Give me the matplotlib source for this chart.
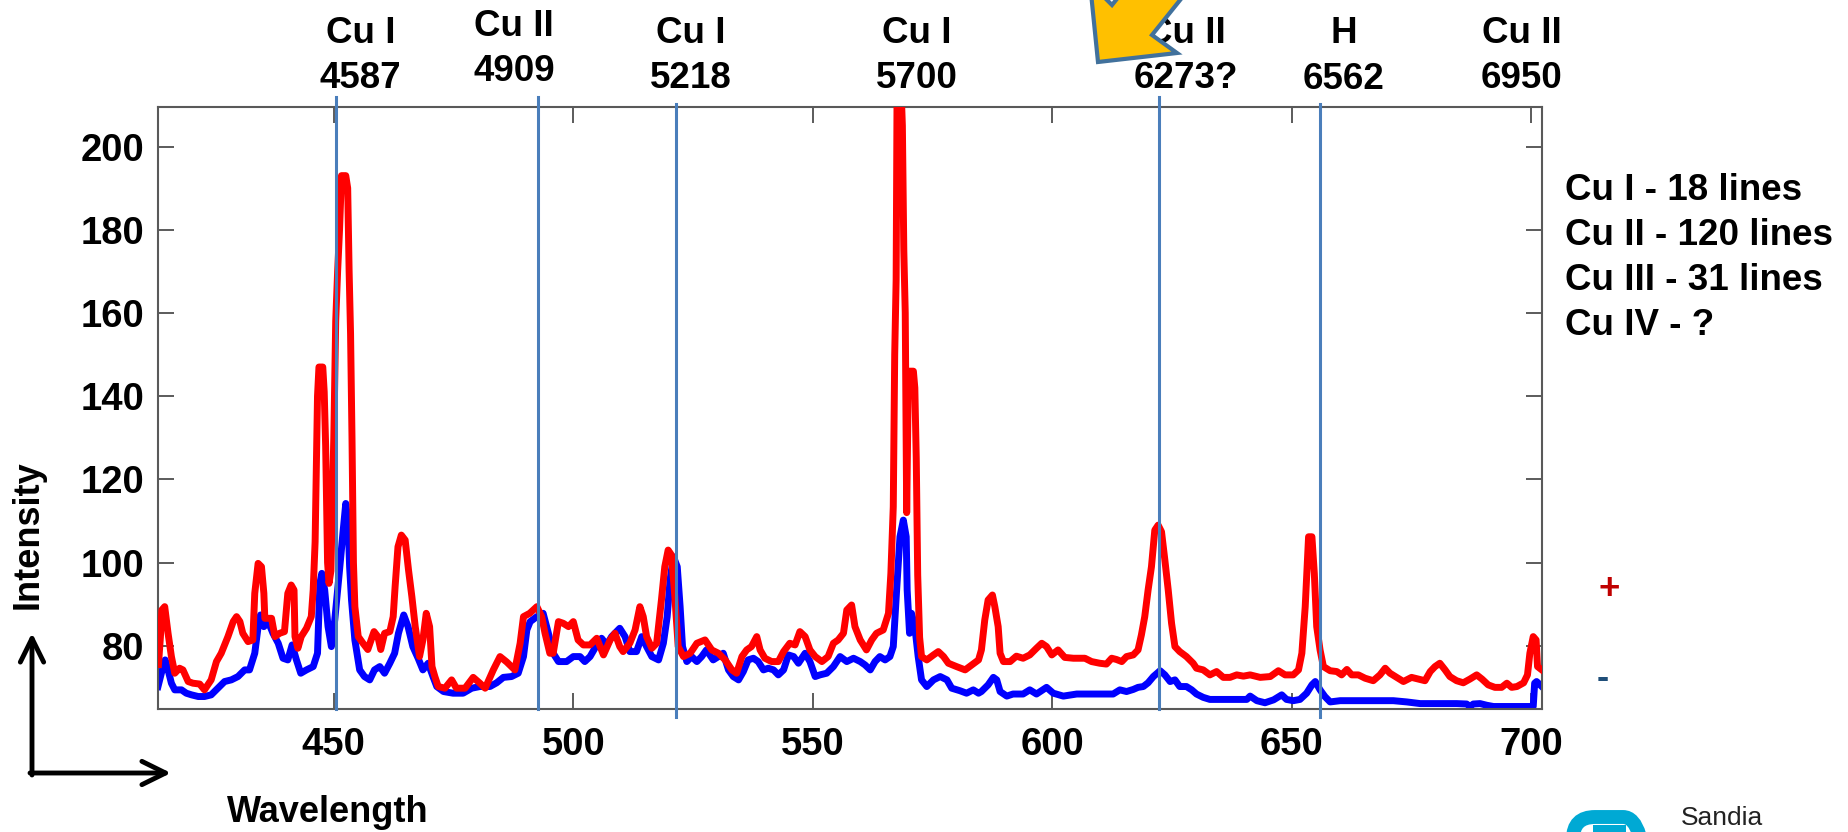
import matplotlib
matplotlib.use("Agg")
import matplotlib.pyplot as plt
from matplotlib.patches import Polygon, FancyArrowPatch, FancyBboxPatch, Rectangle
from matplotlib.lines import Line2D
from matplotlib.transforms import blended_transform_factory, IdentityTransform

# ---------------- spectra (wavelength in nm, intensity in counts) ----------------
red_wavelength = [
    413.4, 413.8, 414.1, 414.7, 415.4, 416.1, 416.8, 417.8, 418.5, 419.6, 420.6, 422.0,
    423.0, 424.4, 425.5, 426.5, 427.9, 429.0, 429.7, 430.4, 431.0, 432.1, 433.1, 433.5,
    434.2, 434.9, 435.4, 435.6, 437.0, 437.7, 438.7, 439.7, 440.4, 441.1, 441.7, 441.9,
    442.5, 443.2, 444.3, 445.3, 445.7, 446.1, 446.4, 446.6, 446.9, 447.7, 448.0, 448.3,
    448.7, 449.0, 449.4, 449.7, 450.0, 450.4, 450.8, 451.2, 451.6, 452.5, 452.9, 453.2,
    453.5, 453.8, 454.1, 454.4, 455.1, 456.1, 457.1, 458.4, 459.2, 459.8, 460.6, 461.7,
    462.4, 462.8, 463.4, 464.1, 464.9, 465.6, 466.3, 467.0, 467.9, 468.6, 469.3, 470.0,
    470.5, 471.1, 471.8, 473.2, 474.6, 475.6, 477.4, 479.1, 480.5, 481.6, 483.3, 484.7,
    486.1, 487.8, 488.9, 489.6, 490.9, 492.4, 493.4, 494.1, 495.1, 495.8, 496.9, 497.9,
    499.0, 500.0, 501.0, 502.1, 503.5, 504.9, 506.3, 507.7, 508.7, 509.7, 510.4, 511.8,
    512.9, 513.9, 514.6, 515.3, 516.4, 517.4, 518.4, 519.1, 519.8, 520.5, 521.2, 521.9,
    523.0, 524.4, 525.8, 527.5, 528.9, 530.3, 531.7, 533.1, 534.1, 535.2, 536.2, 537.2,
    538.3, 539.0, 540.0, 541.4, 542.8, 543.9, 545.2, 546.3, 547.3, 548.4, 549.4, 550.5,
    551.9, 553.2, 554.3, 555.3, 556.4, 557.1, 558.1, 558.8, 559.9, 561.2, 562.3, 563.3,
    564.7, 565.8, 566.3, 566.8, 567.1, 567.4, 567.6, 568.4, 568.7, 569.0, 569.3, 569.6,
    569.9, 570.2, 571.0, 571.3, 571.6, 571.9, 572.3, 572.7, 573.8, 575.2, 576.2, 577.3,
    578.3, 580.0, 581.8, 583.2, 584.6, 585.2, 585.9, 586.6, 587.5, 588.0, 588.7, 589.1,
    589.8, 591.2, 592.5, 593.9, 595.3, 596.7, 597.8, 598.8, 599.9, 601.2, 602.6, 604.4,
    606.8, 608.2, 609.9, 611.3, 612.4, 613.4, 614.5, 615.5, 616.9, 617.9, 618.6, 619.3,
    620.0, 620.7, 621.4, 622.1, 622.8, 623.5, 624.2, 624.9, 625.6, 626.6, 628.0, 629.4,
    630.1, 631.5, 632.9, 634.3, 635.7, 637.1, 638.5, 639.9, 641.3, 643.4, 645.5, 647.2,
    648.6, 650.3, 651.4, 652.1, 652.8, 653.5, 654.2, 654.7, 655.2, 655.9, 656.6, 658.0,
    659.4, 660.4, 661.5, 662.5, 663.9, 665.3, 667.0, 668.4, 669.5, 670.5, 671.9, 673.3,
    675.0, 676.4, 677.8, 678.9, 679.9, 680.9, 682.0, 683.0, 684.4, 685.8, 687.2, 688.6,
    689.7, 691.0, 692.4, 693.8, 694.9, 695.9, 697.0, 698.4, 699.2, 699.7, 700.4, 701.0,
    701.3, 702.2,
]
red_intensity = [
    75.5, 82.0, 88.6, 89.4, 83.0, 77.4, 73.4, 74.6, 74.2, 71.4, 71.0, 70.8,
    69.4, 71.8, 76.2, 78.2, 82.2, 85.8, 87.0, 85.8, 83.0, 81.0, 81.4, 92.6,
    99.8, 99.0, 92.6, 86.6, 86.6, 82.2, 83.0, 83.4, 92.6, 94.6, 93.4, 82.2,
    79.4, 82.2, 84.2, 87.0, 93.4, 105.0, 127.0, 140.0, 147.0, 147.0, 141.0, 128.0,
    100.0, 95.0, 98.0, 115.0, 130.0, 158.0, 170.0, 180.0, 193.0, 193.0, 190.0, 170.0,
    155.0, 130.0, 100.0, 89.4, 82.2, 80.6, 79.1, 83.4, 82.2, 79.1, 83.0, 83.4,
    87.0, 94.2, 103.8, 106.6, 105.4, 98.2, 91.8, 84.6, 77.4, 81.4, 87.8, 84.6,
    75.0, 72.6, 70.2, 69.8, 71.8, 69.8, 69.8, 72.4, 71.0, 69.8, 74.2, 77.4,
    76.1, 74.2, 80.6, 87.0, 87.8, 89.4, 87.0, 83.0, 78.2, 78.2, 85.8, 85.4,
    84.6, 85.8, 81.4, 80.2, 80.2, 81.8, 77.8, 81.4, 83.0, 79.8, 78.6, 80.6,
    83.8, 89.4, 87.0, 82.2, 79.4, 80.6, 91.0, 99.0, 103.0, 101.8, 91.8, 79.8,
    77.4, 78.2, 80.6, 81.4, 79.0, 78.2, 76.6, 74.2, 73.4, 77.4, 79.0, 79.8,
    82.2, 79.0, 77.0, 76.2, 76.2, 78.6, 80.6, 80.2, 83.4, 82.2, 79.0, 77.4,
    76.2, 77.4, 80.6, 81.4, 83.0, 88.6, 89.8, 84.6, 81.4, 79.0, 81.4, 83.0,
    83.8, 87.8, 97.4, 113.4, 150.0, 168.0, 215.0, 215.0, 205.0, 175.0, 160.0, 112.0,
    140.0, 146.0, 146.0, 142.0, 125.0, 97.0, 82.0, 77.4, 76.6, 77.8, 78.6, 77.4,
    75.8, 75.0, 74.2, 75.4, 76.6, 79.0, 86.2, 91.0, 92.2, 89.4, 84.6, 78.2,
    76.2, 76.2, 77.5, 77.0, 77.8, 79.4, 80.6, 79.8, 77.8, 79.0, 77.2, 77.0,
    77.0, 76.2, 75.8, 75.6, 77.0, 76.7, 76.2, 77.4, 77.8, 79.0, 82.6, 87.0,
    93.4, 99.0, 107.8, 109.0, 107.4, 100.6, 93.4, 85.4, 79.8, 78.6, 77.4, 75.8,
    74.6, 74.2, 73.0, 73.8, 72.4, 72.4, 73.0, 72.7, 73.0, 72.4, 72.6, 74.0,
    73.0, 73.0, 74.2, 78.2, 89.4, 106.2, 106.2, 97.4, 84.6, 79.0, 75.0, 74.0,
    73.8, 73.0, 74.3, 73.0, 73.0, 72.2, 71.6, 73.0, 74.6, 73.4, 72.4, 71.4,
    72.4, 72.0, 71.6, 73.8, 75.0, 75.8, 74.2, 72.6, 71.6, 71.1, 72.0, 73.0,
    72.0, 70.6, 70.0, 70.0, 71.0, 70.0, 70.2, 71.1, 73.0, 78.2, 82.2, 81.4,
    75.0, 74.2,
]

blue_wavelength = [
    413.3, 414.0, 414.8, 415.4, 416.1, 416.8, 418.2, 419.2, 420.3, 421.7, 423.0, 424.4,
    425.8, 427.2, 428.6, 430.0, 431.4, 432.4, 433.5, 434.2, 434.7, 435.4, 436.3, 437.3,
    438.4, 439.4, 440.4, 441.3, 442.2, 443.1, 444.3, 445.7, 446.6, 447.1, 447.5, 448.1,
    448.8, 449.5, 450.2, 451.2, 451.9, 452.5, 453.0, 453.3, 453.7, 454.4, 455.4, 456.4,
    457.5, 458.5, 459.6, 460.6, 461.7, 462.7, 463.5, 464.6, 465.5, 466.5, 467.6, 468.6,
    469.7, 470.7, 471.5, 472.9, 474.9, 477.0, 478.8, 480.5, 482.6, 484.0, 485.4, 487.1,
    488.5, 489.6, 490.3, 491.0, 492.4, 493.7, 494.8, 495.8, 496.9, 498.6, 500.0, 501.4,
    502.4, 503.5, 504.5, 505.9, 507.0, 508.0, 509.7, 510.8, 511.8, 513.2, 514.3, 515.3,
    516.4, 517.8, 518.8, 519.6, 520.2, 520.9, 521.7, 522.3, 522.8, 523.7, 524.7, 525.8,
    526.8, 527.8, 529.2, 530.3, 531.3, 532.4, 533.4, 534.5, 535.5, 536.5, 537.6, 538.6,
    539.7, 540.7, 541.8, 542.8, 543.9, 544.9, 546.0, 547.0, 548.4, 549.4, 550.5, 551.5,
    552.9, 554.3, 555.7, 557.1, 558.5, 559.9, 560.9, 562.0, 563.0, 564.0, 565.1, 566.1,
    566.8, 567.5, 568.2, 568.9, 569.5, 569.7, 570.2, 570.6, 571.3, 572.0, 572.7, 573.8,
    575.2, 576.6, 578.0, 579.0, 580.7, 582.1, 583.5, 584.6, 585.2, 586.6, 587.7, 588.4,
    589.1, 590.5, 591.8, 593.9, 595.3, 596.7, 598.8, 600.2, 602.3, 605.1, 607.9, 610.6,
    612.7, 614.1, 615.5, 616.9, 617.9, 619.0, 620.0, 621.1, 622.5, 623.5, 624.6, 625.6,
    626.6, 628.0, 629.1, 630.1, 631.5, 632.9, 635.7, 638.5, 640.6, 641.3, 642.7, 644.4,
    646.2, 647.9, 648.9, 650.3, 651.7, 653.1, 654.2, 654.9, 655.9, 656.9, 658.0, 660.1,
    662.9, 665.6, 668.4, 671.2, 674.0, 676.8, 681.0, 684.4, 686.5, 687.2, 687.9, 689.3,
    690.7, 692.1, 694.9, 698.4, 700.4, 700.7, 701.1, 702.2,
]
blue_intensity = [
    70.2, 73.4, 76.6, 74.2, 71.0, 69.4, 69.4, 68.6, 68.2, 67.8, 67.8, 68.2,
    69.8, 71.4, 71.8, 72.6, 74.2, 74.2, 78.2, 84.6, 87.4, 84.6, 85.8, 83.0,
    80.6, 77.0, 76.6, 80.2, 76.6, 73.4, 74.2, 75.0, 78.2, 95.0, 97.4, 93.4,
    84.6, 79.8, 86.2, 98.2, 107.0, 114.2, 109.4, 99.0, 91.0, 81.4, 74.2, 72.6,
    71.8, 74.2, 75.0, 73.4, 75.8, 78.2, 83.0, 87.4, 84.6, 79.8, 77.0, 74.2,
    75.8, 72.6, 70.2, 69.0, 68.6, 68.6, 69.8, 70.2, 70.2, 71.1, 72.4, 72.6,
    73.4, 77.4, 83.8, 85.8, 87.0, 87.8, 83.0, 78.2, 76.2, 76.2, 77.4, 77.4,
    76.2, 77.4, 79.4, 81.8, 80.2, 82.2, 84.2, 82.2, 78.6, 78.6, 82.2, 79.8,
    77.4, 76.6, 80.6, 87.0, 95.8, 101.4, 99.0, 89.4, 79.8, 76.2, 77.4, 76.2,
    77.4, 79.0, 76.6, 77.4, 78.2, 74.2, 72.6, 71.8, 73.8, 76.6, 77.0, 76.2,
    74.2, 74.6, 74.2, 73.0, 74.2, 77.8, 77.4, 75.8, 78.2, 76.2, 72.6, 73.0,
    73.4, 75.0, 77.4, 76.2, 77.0, 76.2, 75.4, 74.2, 76.2, 77.4, 76.6, 77.4,
    79.8, 93.4, 106.2, 110.2, 106.2, 93.4, 83.0, 87.8, 84.6, 77.4, 71.8, 70.2,
    71.8, 72.6, 71.8, 69.8, 69.2, 68.6, 69.4, 68.6, 69.0, 70.6, 72.4, 71.8,
    69.0, 67.9, 68.4, 68.4, 69.4, 68.4, 70.0, 68.6, 67.9, 68.4, 68.4, 68.4,
    68.4, 69.4, 69.0, 69.5, 70.0, 70.2, 71.1, 72.6, 74.0, 73.0, 71.4, 71.8,
    70.2, 70.2, 69.4, 68.4, 67.6, 67.1, 67.1, 67.1, 67.1, 67.9, 66.8, 66.3,
    67.0, 68.2, 67.1, 66.8, 67.1, 68.6, 70.6, 71.4, 69.4, 67.8, 66.5, 66.8,
    66.8, 66.8, 66.8, 66.8, 66.5, 66.1, 66.1, 66.1, 66.0, 65.4, 66.0, 66.1,
    65.7, 65.4, 65.4, 65.4, 65.4, 71.0, 71.4, 70.2,
]

# ---------------- axis ticks ----------------
x_ticks = [450, 500, 550, 600, 650, 700]
y_ticks = [80, 100, 120, 140, 160, 180, 200]

# ---------------- identified emission lines ----------------
marker_wavelength = [450.4, 492.6, 521.4, 622.3, 655.9]
label_species = ["Cu I", "Cu II", "Cu I", "Cu I", "Cu II", "H", "Cu II"]
label_angstrom = ["4587", "4909", "5218", "5700", "6273?", "6562", "6950"]
line_counts = ["Cu I - 18 lines", "Cu II - 120 lines", "Cu III - 31 lines", "Cu IV - ?"]

# ---------------- layout (pixels of the 1848 x 832 canvas) ----------------
W, H = 1848, 832


def fx(x):
    return x / W


def fy(y):
    return 1 - y / H


plt.rcParams["font.family"] = ["Liberation Sans", "DejaVu Sans"]

fig = plt.figure(figsize=(W / 100, H / 100), dpi=100)
fig.patch.set_facecolor("white")

ax_left, ax_right, ax_top, ax_bottom = 158, 1541.6, 107, 709
ax = fig.add_axes([fx(ax_left), fy(ax_bottom), (ax_right - ax_left) / W, (ax_bottom - ax_top) / H])

ax.plot(blue_wavelength, blue_intensity, color="#0000FF", lw=5, zorder=2)
ax.plot(red_wavelength, red_intensity, color="#FF0000", lw=5, zorder=3)

ax.set_xlim(413.3, 702.15)
ax.set_ylim(64.8, 209.5)
ax.set_xticks(x_ticks)
ax.set_yticks(y_ticks)
ax.tick_params(direction="in", length=11.5, width=1.2, color="#404040",
               labelcolor="black", labelsize=27.5, top=True, right=True)
ax.tick_params(axis="x", pad=13)
ax.tick_params(axis="y", pad=10)
for lab in ax.get_xticklabels() + ax.get_yticklabels():
    lab.set_fontweight("bold")
for s in ax.spines.values():
    s.set_color("#595959")
    s.set_linewidth(1.5)

# vertical marker lines, reaching slightly past the frame
line_top = [97, 97, 104, 97, 104]
line_bottom = [709, 709, 717, 709, 717]
trans = blended_transform_factory(ax.transData, fig.transFigure)
for wl, t, b in zip(marker_wavelength, line_top, line_bottom):
    ax.add_line(Line2D([wl, wl], [fy(t), fy(b)], transform=trans, color="#4A7EBB",
                       lw=2.2, clip_on=False, zorder=5))

# species / wavelength labels above the frame
label_x = [360.6, 514, 690.6, 917, 1186, 1343.6, 1522]
species_base = [43, 36, 43, 43, 43, 43, 43]
angstrom_base = [88, 81, 88, 88, 88, 89, 88]
for name, num, x, b1, b2 in zip(label_species, label_angstrom, label_x, species_base, angstrom_base):
    fig.text(fx(x), fy(b1), name, ha="center", va="baseline", fontsize=26.5, fontweight="bold")
    fig.text(fx(x), fy(b2), num, ha="center", va="baseline", fontsize=26.5, fontweight="bold")

# number of known lines per ionisation stage
for i, txt in enumerate(line_counts):
    fig.text(fx(1565), fy(200 + 45 * i), txt, ha="left", va="baseline",
             fontsize=26.5, fontweight="bold")

# polarity marks
fig.text(fx(1609), fy(599), "+", ha="center", va="baseline", fontsize=26.5,
         fontweight="bold", color="#C00000")
fig.text(fx(1603), fy(688), "-", ha="center", va="baseline", fontsize=26.5,
         fontweight="bold", color="#1F4E79")

# axis titles with corner arrows
fig.text(fx(28), fy(535), "Intensity", rotation=90, ha="center", va="center",
         fontsize=26, fontweight="bold")
fig.text(fx(328), fy(812), "Wavelength", ha="center", va="center",
         fontsize=26, fontweight="bold")
for start, end in [((32, 775), (32, 633)), ((30, 773), (171, 773))]:
    fig.add_artist(FancyArrowPatch(posA=(fx(start[0]), fy(start[1])), posB=(fx(end[0]), fy(end[1])),
                                   transform=fig.transFigure,
                                   arrowstyle="->,head_length=0.85,head_width=0.42",
                                   mutation_scale=20, lw=3.5, color="black",
                                   shrinkA=0, shrinkB=0))

# pointer arrow toward the 6273 label
arrow_px = [(1098, 62), (1177, 53), (1152, 35), (1246, -82), (1207, -113), (1112, 5), (1090, -17)]
fig.add_artist(Polygon([(fx(x), fy(y)) for x, y in arrow_px], closed=True,
                       transform=fig.transFigure, facecolor="#FFC000",
                       edgecolor="#41719C", lw=3, joinstyle="miter", zorder=10))

# logo in the lower right corner
ident = IdentityTransform()
fig.add_artist(FancyBboxPatch((1573, -80), 72, 95, boxstyle="round,pad=0,rounding_size=22",
                              transform=ident, facecolor="none", edgecolor="#00A9D4",
                              lw=10, zorder=6))
fig.add_artist(Rectangle((1593, -5), 33, 12, transform=ident, facecolor="#00A9D4",
                         edgecolor="none", zorder=6))
fig.text(fx(1681), fy(825), "Sandia", ha="left", va="baseline", fontsize=19,
         family=["Liberation Sans Narrow", "Liberation Sans"], color="#222222")

fig.savefig("out.png", dpi=100)
